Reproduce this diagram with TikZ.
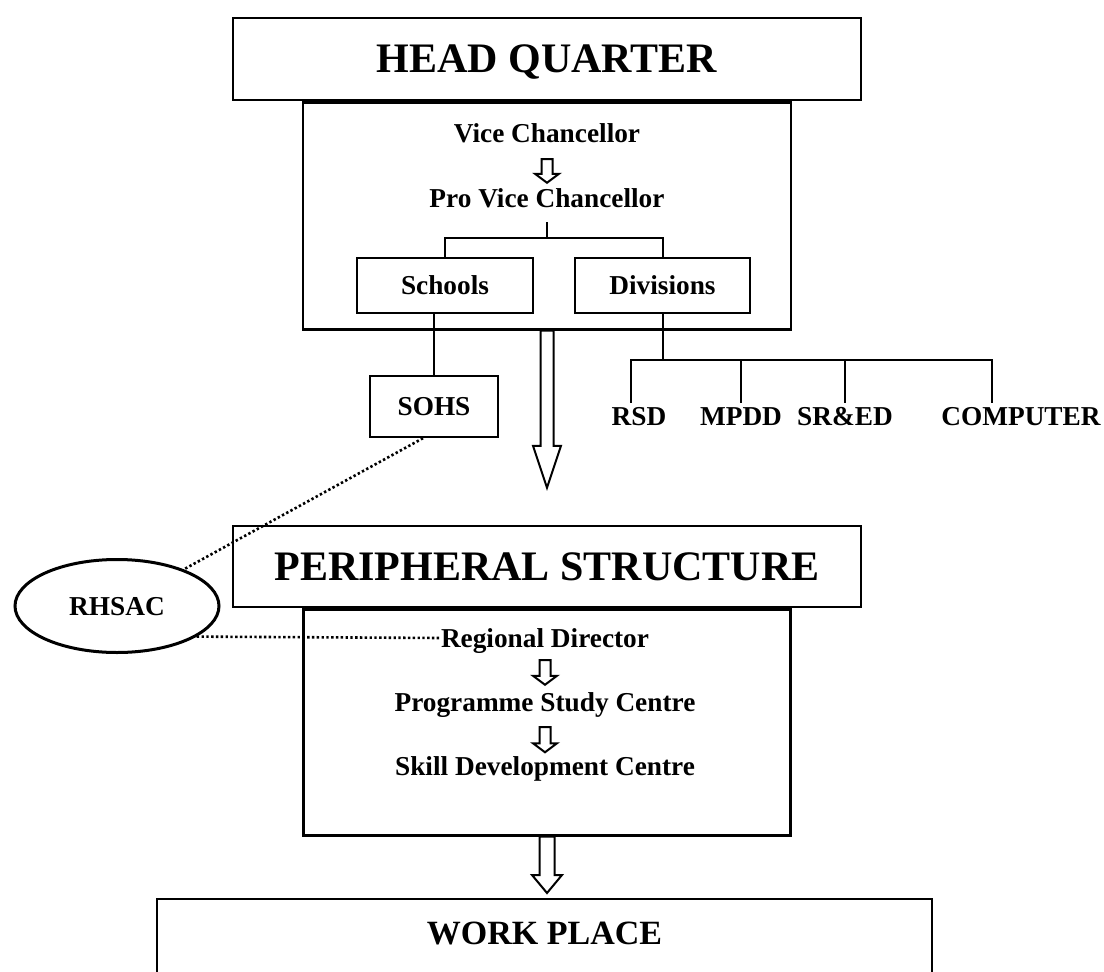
\documentclass[tikz,border=0pt]{standalone}
\usepackage{fontspec}
\setmainfont{Liberation Serif}
\usetikzlibrary{calc,shapes.geometric}

\tikzset{
  lbl/.style={font=\fontsize{27.3}{30}\selectfont\bfseries, inner sep=0pt,
    text height=18pt, text depth=0pt},
  leaf/.style={lbl, outer sep=5pt},
  frame/.style={draw, line width=2.4pt},
  title/.style={frame, font=\fontsize{42}{48}\selectfont\bfseries,
    text height=27.7pt, text depth=0pt, minimum width=628pt},
  box/.style={frame, lbl},
  tree/.style={line width=2pt},
  dotline/.style={line width=2.6pt, dash pattern=on 2.4pt off 2.4pt},
  arrowline/.style={line width=2pt, fill=white}
}

% hollow block arrow: from, to, half shaft, half head, head length
\newcommand\blockarrow[5]{%
  \draw[arrowline] let \p1=(#1), \p2=(#2) in
    (\x1-#3,\y1) -- (\x1-#3,\y2+#5) -- (\x1-#4,\y2+#5) -- (\x1,\y2)
    -- (\x1+#4,\y2+#5) -- (\x1+#3,\y2+#5) -- (\x1+#3,\y1) -- cycle;}

\begin{document}
\begin{tikzpicture}[x=1pt,y=-1pt]
\useasboundingbox (0,0) rectangle (1104,972);

% head quarter
\node[title, minimum height=82pt] (hq) at (547,59) {HEAD QUARTER};
\node[frame, minimum width=488pt, minimum height=227pt, anchor=north] (hqin) at (hq.south) {};
\node[lbl] (vc) at (547,133) {Vice Chancellor};
\node[lbl] (pvc) at (547,198) {Pro Vice Chancellor};
\blockarrow{$(vc.south)+(0,17)$}{$(pvc.north)+(0,-6)$}{5.5pt}{12pt}{9pt}

\node[box, minimum width=176pt, minimum height=55pt] (schools) at (445,285.5) {Schools};
\node[box, minimum width=175pt, minimum height=55pt] (divisions) at (662.5,285.5) {Divisions};
\draw[tree] ([yshift=-15pt]pvc.south) -- ++(0,16) coordinate (fork);
\draw[tree] (schools.north) |- (fork) -| (divisions.north);

\node[box, minimum width=128pt, minimum height=61pt] (sohs) at (434,406.5) {SOHS};
\draw[tree] (sohs.north) -- (sohs.north |- schools.south);

% divisions
\node[leaf] (rsd) at (639,416.5) {RSD};
\node[leaf] (mpdd) at (741,416.5) {MPDD};
\node[leaf] (sred) at (845,416.5) {SR\&ED};
\node[leaf] (computer) at (1021,416.5) {COMPUTER};
\draw[tree] (divisions.south) -- ++(0,46) coordinate (dfork);
\draw[tree] ([xshift=-8pt]rsd.north) |- (dfork) -| ([xshift=-29pt]computer.north);
\draw[tree] (mpdd.north) -- (mpdd.north |- dfork);
\draw[tree] (sred.north) -- (sred.north |- dfork);

% peripheral structure
\node[title, minimum height=81pt] (periph) at (547,566.5) {PERIPHERAL STRUCTURE};
\node[frame, minimum width=487pt, minimum height=226pt, anchor=north] (periphin) at (periph.south) {};
\node[lbl] (rd) at (545,638) {Regional Director};
\node[lbl] (psc) at (545,702) {Programme Study Centre};
\node[lbl] (sdc) at (545,766.5) {Skill Development Centre};
\blockarrow{$(rd.south)+(0,13)$}{$(psc.north)+(0,-8)$}{5.5pt}{12pt}{9pt}
\blockarrow{$(psc.south)+(0,16)$}{$(sdc.north)+(0,-5)$}{5.5pt}{12pt}{9pt}

\blockarrow{hqin.south}{$(periph.north)+(0,-37)$}{6.5pt}{14pt}{42pt}

% work place
\node[frame, font=\fontsize{34}{40}\selectfont\bfseries, anchor=north,
  minimum width=775pt, inner ysep=23pt, text height=22.4pt, text depth=80pt] (work) at (544.5,898) {WORK PLACE};
\blockarrow{periphin.south}{$(work.north)+(0,-5)$}{7.5pt}{15pt}{18pt}

% advisory council
\node[ellipse, draw, line width=3pt, lbl, minimum width=204pt, minimum height=93pt] (rhsac) at (117,606) {RHSAC};
\draw[dotline] ([xshift=-11pt]sohs.south) -- (rhsac);
\draw[dotline] (rhsac.-21) -- (rd.west);
\end{tikzpicture}
\end{document}
